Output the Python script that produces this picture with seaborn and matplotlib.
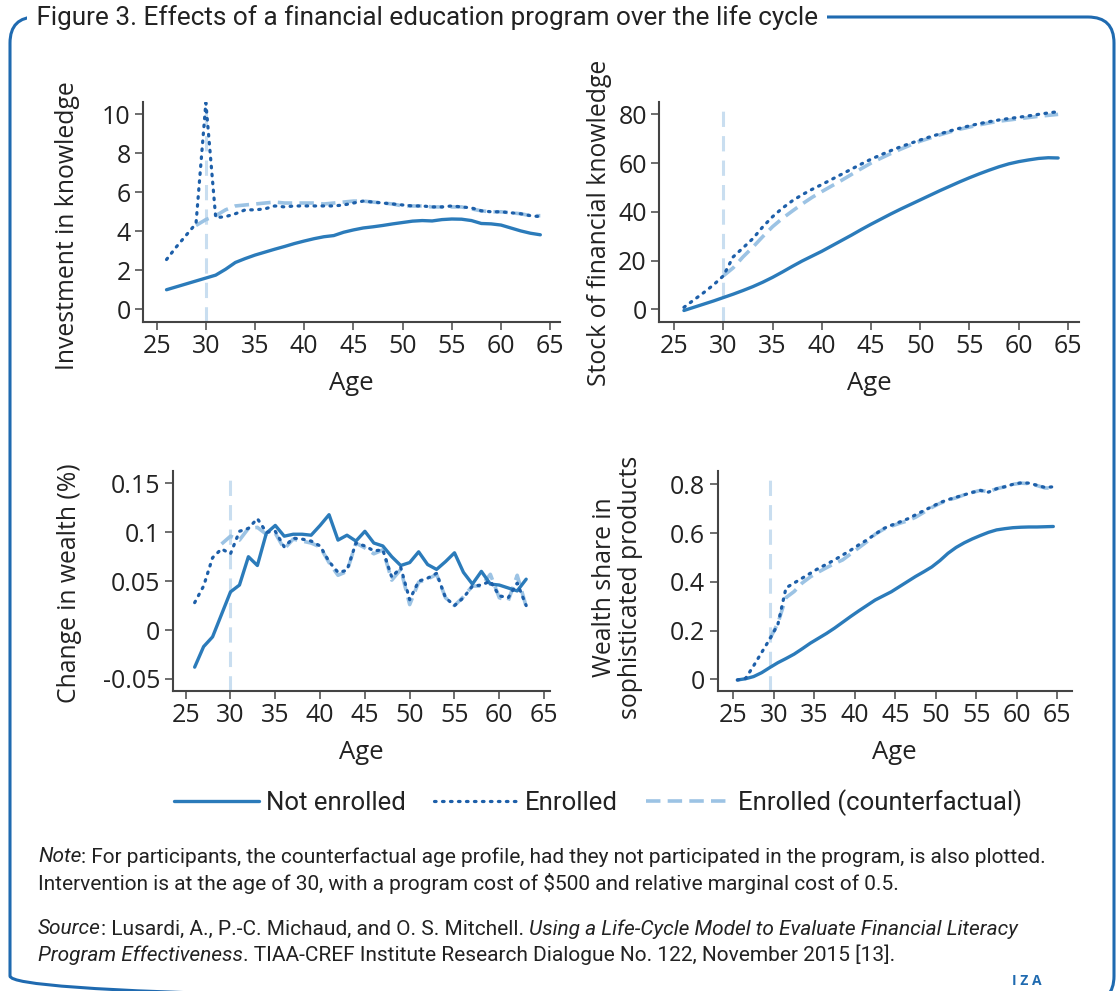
import numpy as np
import pandas as pd
import matplotlib
matplotlib.use("Agg")
import matplotlib.pyplot as plt
import seaborn as sns
from matplotlib.lines import Line2D
from matplotlib.patches import FancyBboxPatch

# ---- data ----
ages = list(range(26, 65))

invest_not = [1.0, 1.15, 1.3, 1.45, 1.6, 1.75, 2.05, 2.4, 2.6, 2.78, 2.93, 3.08, 3.22,
              3.37, 3.5, 3.62, 3.72, 3.78, 3.95, 4.07, 4.17, 4.23, 4.3, 4.38, 4.45, 4.52,
              4.55, 4.53, 4.6, 4.63, 4.62, 4.55, 4.4, 4.38, 4.32, 4.17, 4.02, 3.9, 3.82]
invest_enr = [2.55, 3.2, 3.8, 4.4, 10.6, 4.7, 4.75, 4.9, 5.1, 5.1, 5.15, 5.3, 5.25, 5.3,
              5.3, 5.3, 5.3, 5.3, 5.35, 5.45, 5.55, 5.5, 5.45, 5.4, 5.35, 5.3, 5.3, 5.25,
              5.25, 5.3, 5.25, 5.2, 5.05, 5.0, 5.0, 4.95, 4.9, 4.8, 4.75]
ages_invest_cf = list(range(29, 65))
invest_cf = [4.3, 4.6, 4.8, 5.1, 5.3, 5.35, 5.4, 5.45, 5.5, 5.45, 5.45, 5.45, 5.45, 5.4,
             5.45, 5.5, 5.55, 5.55, 5.5, 5.45, 5.4, 5.3, 5.3, 5.3, 5.25, 5.25, 5.25, 5.25,
             5.15, 5.05, 5.0, 5.0, 4.95, 4.9, 4.8, 4.8]

stock_not = [-0.5, 0.8, 2.1, 3.4, 4.8, 6.2, 7.7, 9.3, 11.1, 13.1, 15.3, 17.6, 19.8, 21.8,
             23.8, 26.0, 28.2, 30.4, 32.7, 34.9, 37.0, 39.1, 41.1, 43.0, 44.9, 46.8, 48.7,
             50.5, 52.3, 54.0, 55.6, 57.1, 58.5, 59.7, 60.6, 61.3, 61.9, 62.2, 62.1]
stock_enr = [0.8, 3.8, 6.8, 10.0, 13.7, 21.5, 25.2, 29.0, 33.8, 38.0, 41.5, 44.5, 47.0,
             49.2, 51.2, 53.3, 55.4, 57.5, 59.6, 61.6, 63.4, 65.1, 66.7, 68.1, 69.5, 70.8,
             72.0, 73.2, 74.3, 75.3, 76.2, 77.0, 77.7, 78.3, 78.8, 79.4, 80.0, 80.6, 81.1]
ages_stock_cf = list(range(30, 65))
stock_cf = [13.7, 17.0, 21.5, 25.5, 29.8, 33.9, 37.3, 40.3, 43.2, 45.9, 48.3, 50.6, 52.9,
            55.3, 57.7, 60.0, 62.0, 63.9, 65.7, 67.4, 69.0, 70.3, 71.6, 72.8, 73.9, 74.8,
            75.7, 76.5, 77.2, 77.7, 78.2, 78.7, 79.2, 79.6, 80.0]

ages_wealth = list(range(26, 64))
wealth_not = [-0.038, -0.017, -0.007, 0.016, 0.039, 0.046, 0.075, 0.066, 0.099, 0.107,
              0.096, 0.098, 0.098, 0.097, 0.107, 0.118, 0.092, 0.097, 0.091, 0.101, 0.089,
              0.086, 0.075, 0.066, 0.069, 0.080, 0.067, 0.062, 0.070, 0.079, 0.059, 0.047,
              0.060, 0.047, 0.046, 0.043, 0.040, 0.052]
wealth_enr = [0.028, 0.045, 0.074, 0.083, 0.078, 0.101, 0.104, 0.114, 0.100, 0.101, 0.085,
              0.094, 0.093, 0.091, 0.086, 0.070, 0.059, 0.061, 0.089, 0.086, 0.081, 0.082,
              0.054, 0.064, 0.031, 0.050, 0.053, 0.058, 0.033, 0.025, 0.033, 0.045, 0.046,
              0.050, 0.035, 0.033, 0.048, 0.025]
ages_wealth_cf = list(range(29, 64))
wealth_cf = [0.088, 0.096, 0.092, 0.104, 0.105, 0.098, 0.099, 0.083, 0.093, 0.091, 0.089,
             0.085, 0.069, 0.056, 0.060, 0.089, 0.084, 0.078, 0.082, 0.051, 0.062, 0.026,
             0.049, 0.052, 0.057, 0.033, 0.025, 0.034, 0.045, 0.045, 0.057, 0.033, 0.030,
             0.056, 0.024]

ages_share = [a - 0.5 for a in range(26, 66)]
share_not = [-0.003, 0.002, 0.011, 0.027, 0.048, 0.068, 0.085, 0.103, 0.125, 0.148, 0.168,
             0.188, 0.21, 0.234, 0.258, 0.281, 0.303, 0.325, 0.342, 0.359, 0.38, 0.401,
             0.422, 0.441, 0.461, 0.487, 0.517, 0.541, 0.56, 0.576, 0.59, 0.603, 0.613,
             0.618, 0.622, 0.624, 0.625, 0.625, 0.626, 0.627]
share_enr = [-0.003, 0.003, 0.055, 0.11, 0.165, 0.225, 0.375, 0.395, 0.415, 0.435, 0.455,
             0.472, 0.49, 0.51, 0.53, 0.552, 0.572, 0.595, 0.618, 0.632, 0.645, 0.658,
             0.675, 0.692, 0.708, 0.725, 0.737, 0.747, 0.757, 0.767, 0.775, 0.768, 0.782,
             0.79, 0.8, 0.806, 0.805, 0.796, 0.787, 0.79]
ages_share_cf = [a - 0.5 for a in range(30, 66)]
share_cf = [0.165, 0.23, 0.335, 0.36, 0.395, 0.42, 0.44, 0.458, 0.475, 0.49, 0.515, 0.54,
            0.565, 0.595, 0.615, 0.628, 0.64, 0.65, 0.665, 0.685, 0.705, 0.722, 0.735,
            0.745, 0.757, 0.767, 0.775, 0.77, 0.782, 0.79, 0.8, 0.805, 0.803, 0.795, 0.785,
            0.785]

series_labels = ["Not enrolled", "Enrolled", "Enrolled (counterfactual)"]

# ---- style ----
sns.set_style("ticks")
plt.rcParams['font.family'] = ['Open Sans', 'DejaVu Sans']

C_NOT = '#2b7bba'
C_ENR = '#1d5fa9'
C_CF = '#9cc3e4'
C_VL = '#c9def0'
C_FRAME = '#1f6ab0'
C_TXT = '#222222'
DOT = (0, (0.5, 2.0))
DASH = (0, (4, 2))

W, H = 1118, 991
fig = plt.figure(figsize=(W / 100, H / 100), dpi=100)

bg = fig.add_axes([0, 0, 1, 1], zorder=0)
bg.set_xlim(0, W)
bg.set_ylim(H, 0)
bg.axis('off')


def rect(l, r, t, b):
    return [l / W, 1 - b / H, (r - l) / W, (b - t) / H]


def draw_panel(box, x_not, y_not, x_enr, y_enr, x_cf, y_cf, vline,
               xlim, ylim, yticks, yticklabels, ylabel, label_xy):
    ax = fig.add_axes(rect(*box), zorder=2)
    ax.patch.set_alpha(0)
    ax.axvline(vline, color=C_VL, lw=2.2, linestyle=(0, (5, 3)), zorder=1)
    sns.lineplot(x=x_cf, y=y_cf, ax=ax, color=C_CF, lw=2.6, linestyle=DASH)
    sns.lineplot(x=x_not, y=y_not, ax=ax, color=C_NOT, lw=2.4)
    sns.lineplot(x=x_enr, y=y_enr, ax=ax, color=C_ENR, lw=2.3, linestyle=DOT,
                 dash_capstyle='round')
    ax.set_xlim(*xlim)
    ax.set_ylim(*ylim)
    ax.set_xticks(range(25, 70, 5))
    ax.set_yticks(yticks)
    ax.set_yticklabels(yticklabels)
    ax.tick_params(labelsize=18, length=6, width=1.2, color='#555555', pad=3,
                   labelcolor=C_TXT)
    sns.despine(ax=ax)
    for s in ['left', 'bottom']:
        ax.spines[s].set_color('#444444')
        ax.spines[s].set_linewidth(1.5)
    ax.set_xlabel("Age", fontsize=18.5, color=C_TXT, labelpad=8.5)
    ax.set_ylabel(ylabel, fontsize=17.8, color=C_TXT, linespacing=1.05)
    # label anchor in pixels -> axes fraction
    l, r, t, b = box
    ax.yaxis.set_label_coords((label_xy[0] - l) / (r - l), (b - label_xy[1]) / (b - t))
    return ax


draw_panel((143.3, 560, 101.7, 321.7), ages, invest_not, ages, invest_enr,
           ages_invest_cf, invest_cf, 30, (23.64, 66.0), (-0.64, 10.65),
           [0, 2, 4, 6, 8, 10], ["0", "2", "4", "6", "8", "10"],
           "Investment in knowledge", (80, 226))
draw_panel((659.3, 1079.3, 101.7, 321.7), ages, stock_not, ages, stock_enr,
           ages_stock_cf, stock_cf, 30, (23.5, 66.15), (-5.1, 85.2),
           [0, 20, 40, 60, 80], ["0", "20", "40", "60", "80"],
           "Stock of financial knowledge", (612, 223))
draw_panel((172.7, 550, 470.7, 691), ages_wealth, wealth_not, ages_wealth, wealth_enr,
           ages_wealth_cf, wealth_cf, 30, (23.55, 65.66), (-0.0624, 0.163),
           [-0.05, 0, 0.05, 0.1, 0.15], ["-0.05", "0", "0.05", "0.1", "0.15"],
           "Change in wealth (%)", (82, 583))
draw_panel((717.7, 1071.7, 470.7, 690.7), ages_share, share_not, ages_share, share_enr,
           ages_share_cf, share_cf, 29.5, (23.07, 66.77), (-0.047, 0.856),
           [0, 0.2, 0.4, 0.6, 0.8], ["0", "0.2", "0.4", "0.6", "0.8"],
           "Wealth share in\nsophisticated products", (643, 587))

# ---- legend ----
handles = [Line2D([], [], color=C_NOT, lw=2.4),
           Line2D([], [], color=C_ENR, lw=2.3, linestyle=DOT, dash_capstyle='round'),
           Line2D([], [], color=C_CF, lw=2.6, linestyle=DASH)]
fig.legend(handles, series_labels, loc='center', bbox_to_anchor=(598 / W, 1 - 803 / H),
           ncol=3, frameon=False, handlelength=3.3, handletextpad=0.25,
           columnspacing=1.1, labelcolor=C_TXT,
           prop={'family': ['Roboto', 'DejaVu Sans'], 'size': 18.5})

# ---- frame and title ----
frame = FancyBboxPatch((10, 17), 1104, 985, boxstyle="round,pad=0,rounding_size=26",
                       fill=False, edgecolor=C_FRAME, lw=2.2, zorder=1)
bg.add_patch(frame)
bg.text(30, 18, " Figure 3. Effects of a financial education program over the life cycle ",
        fontsize=18.8, color=C_TXT, family=['Roboto', 'DejaVu Sans'], va='center',
        ha='left', zorder=3, bbox=dict(facecolor='white', edgecolor='none', pad=2))

# ---- notes ----
renderer = fig.canvas.get_renderer()


def rich_line(x, y, parts):
    for txt, style in parts:
        t = bg.text(x, y, txt, fontsize=15, style=style, color=C_TXT,
                    family=['Roboto', 'DejaVu Sans'], va='center', ha='left', zorder=3)
        x = t.get_window_extent(renderer).x1


rich_line(38, 857, [("Note", 'italic'),
                    (": For participants, the counterfactual age profile, had they not "
                     "participated in the program, is also plotted.", 'normal')])
rich_line(38, 884, [("Intervention is at the age of 30, with a program cost of $500 and "
                     "relative marginal cost of 0.5.", 'normal')])
rich_line(38, 929, [("Source", 'italic'),
                    (": Lusardi, A., P.-C. Michaud, and O. S. Mitchell. ", 'normal'),
                    ("Using a Life-Cycle Model to Evaluate Financial Literacy", 'italic')])
rich_line(38, 955, [("Program Effectiveness", 'italic'),
                    (". TIAA-CREF Institute Research Dialogue No. 122, November 2015 [13].",
                     'normal')])
bg.text(1012, 981, "I Z A", fontsize=10, fontweight='bold', color=C_FRAME,
        va='center', ha='left', zorder=3)

fig.savefig("out.png", dpi=100)
